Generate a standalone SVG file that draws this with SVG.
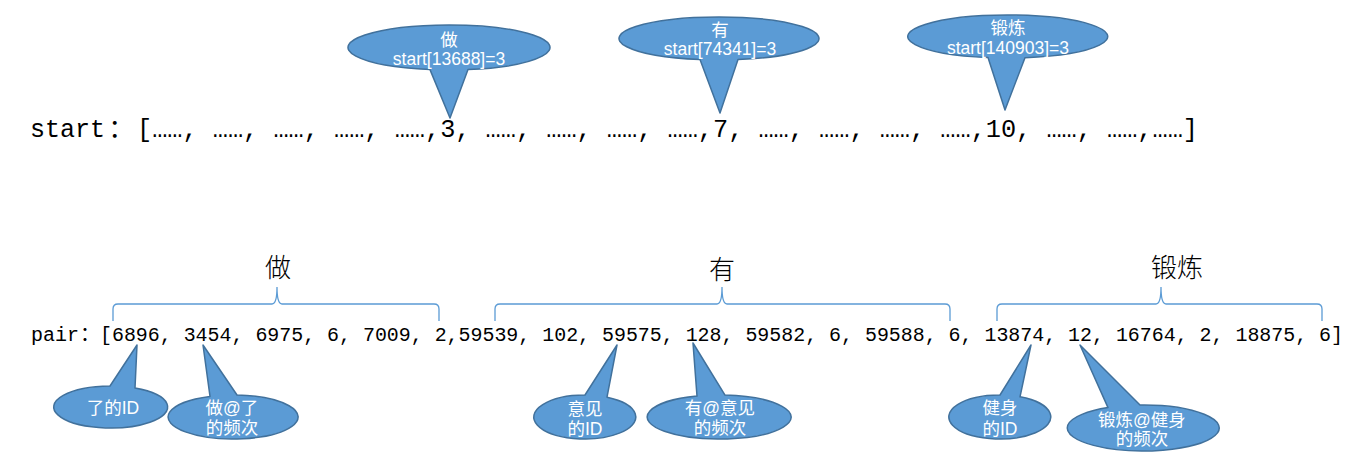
<svg xmlns="http://www.w3.org/2000/svg" width="1347" height="459" viewBox="0 0 1347 459">
<style>
.bg{fill:#ffffff}
.call{fill:#5B9BD5;stroke:#41719C;stroke-width:1.5;stroke-linejoin:round}
.ct{fill:#ffffff;font-family:"Liberation Sans","Noto Sans CJK SC",sans-serif;font-size:17.5px;text-anchor:middle}
.mono{fill:#000000;font-family:"Liberation Mono","Noto Sans CJK SC",monospace}
.cjk{fill:#000000;font-family:"Noto Sans CJK SC",sans-serif}
.brace{fill:none;stroke:#5B9BD5;stroke-width:1.3}
.lbl{fill:#000000;font-family:"Noto Sans CJK SC",sans-serif;font-size:26px;font-weight:300;text-anchor:middle}
</style>
<rect class="bg" x="0" y="0" width="1347" height="459"/>

<g id="start-array">
<text class="mono" x="30" y="137" font-size="25">start</text>
<text class="cjk" x="121" y="137" font-size="25" text-anchor="middle">：</text>
<text class="mono" x="137" y="137" font-size="25" textLength="1061" lengthAdjust="spacingAndGlyphs">[……, ……, ……, ……, ……,3, ……, ……, ……, ……,7, ……, ……, ……, ……,10, ……, ……,……]</text>
</g>

<g id="pair-array">
<text class="mono" x="31" y="341" font-size="20">pair</text>
<text class="cjk" x="90" y="341" font-size="20" text-anchor="middle">：</text>
<text class="mono" x="100" y="341" font-size="20" textLength="1243" lengthAdjust="spacingAndGlyphs">[6896, 3454, 6975, 6, 7009, 2,59539, 102, 59575, 128, 59582, 6, 59588, 6, 13874, 12, 16764, 2, 18875, 6]</text>
</g>

<g id="connectors">
<path class="brace" d="M113 321 L113 309 Q113 304 118 304 L272 304 Q277 304 277 287 Q277 304 282 304 L434 304 Q439 304 439 309 L439 321"/>
<path class="brace" d="M495 321 L495 309 Q495 304 500 304 L717 304 Q722 304 722 287 Q722 304 727 304 L945 304 Q950 304 950 309 L950 321"/>
<path class="brace" d="M997 321 L997 309 Q997 304 1002 304 L1156 304 Q1161 304 1161 287 Q1161 304 1166 304 L1317 304 Q1322 304 1322 309 L1322 321"/>
</g>

<g id="label-zuo"><text class="lbl" x="278" y="277">做</text></g>
<g id="label-you"><text class="lbl" x="722" y="279">有</text></g>
<g id="label-duanlian"><text class="lbl" x="1177" y="277">锻炼</text></g>

<g id="callout-zuo">
<path class="call" d="M430 69.6 A101 22.5 0 1 1 468 69.6 L450 118 Z"/>
<text class="ct" x="449" y="46">做</text>
<text class="ct" x="449" y="65">start[13688]=3</text>
</g>
<g id="callout-you">
<path class="call" d="M700 59.6 A100 21.5 0 1 1 738 59.6 L720 113 Z"/>
<text class="ct" x="720" y="36">有</text>
<text class="ct" x="720" y="55">start[74341]=3</text>
</g>
<g id="callout-duanlian">
<path class="call" d="M988 57.6 A100 21.5 0 1 1 1025 57.7 L1005 110 Z"/>
<text class="ct" x="1008" y="34">锻炼</text>
<text class="ct" x="1008" y="54">start[140903]=3</text>
</g>

<g id="callout-le-id">
<path class="call" d="M110 386 A57 21 0 1 0 135 388 L137 345 Z"/>
<text class="ct" x="113" y="414">了的ID</text>
</g>
<g id="callout-zuo-le-freq">
<path class="call" d="M210 396.4 A65 22 0 1 0 237 395 L203 345 Z"/>
<text class="ct" x="232" y="414">做@了</text>
<text class="ct" x="232" y="434">的频次</text>
</g>
<g id="callout-yijian-id">
<path class="call" d="M585 395 A51 22 0 1 0 607 397.2 L617 345 Z"/>
<text class="ct" x="585" y="415">意见</text>
<text class="ct" x="585" y="435">的ID</text>
</g>
<g id="callout-you-yijian-freq">
<path class="call" d="M697 396.1 A72 22 0 1 0 725 395.1 L693 343 Z"/>
<text class="ct" x="720" y="414">有@意见</text>
<text class="ct" x="720" y="434">的频次</text>
</g>
<g id="callout-jianshen-id">
<path class="call" d="M1000 395 A51 22 0 1 0 1020 396.8 L1031 345 Z"/>
<text class="ct" x="1000" y="414">健身</text>
<text class="ct" x="1000" y="435">的ID</text>
</g>
<g id="callout-duanlian-jianshen-freq">
<path class="call" d="M1108 407.6 A76 23 0 1 0 1140 405 L1080 345 Z"/>
<text class="ct" x="1142" y="426">锻炼@健身</text>
<text class="ct" x="1142" y="445">的频次</text>
</g>
</svg>
